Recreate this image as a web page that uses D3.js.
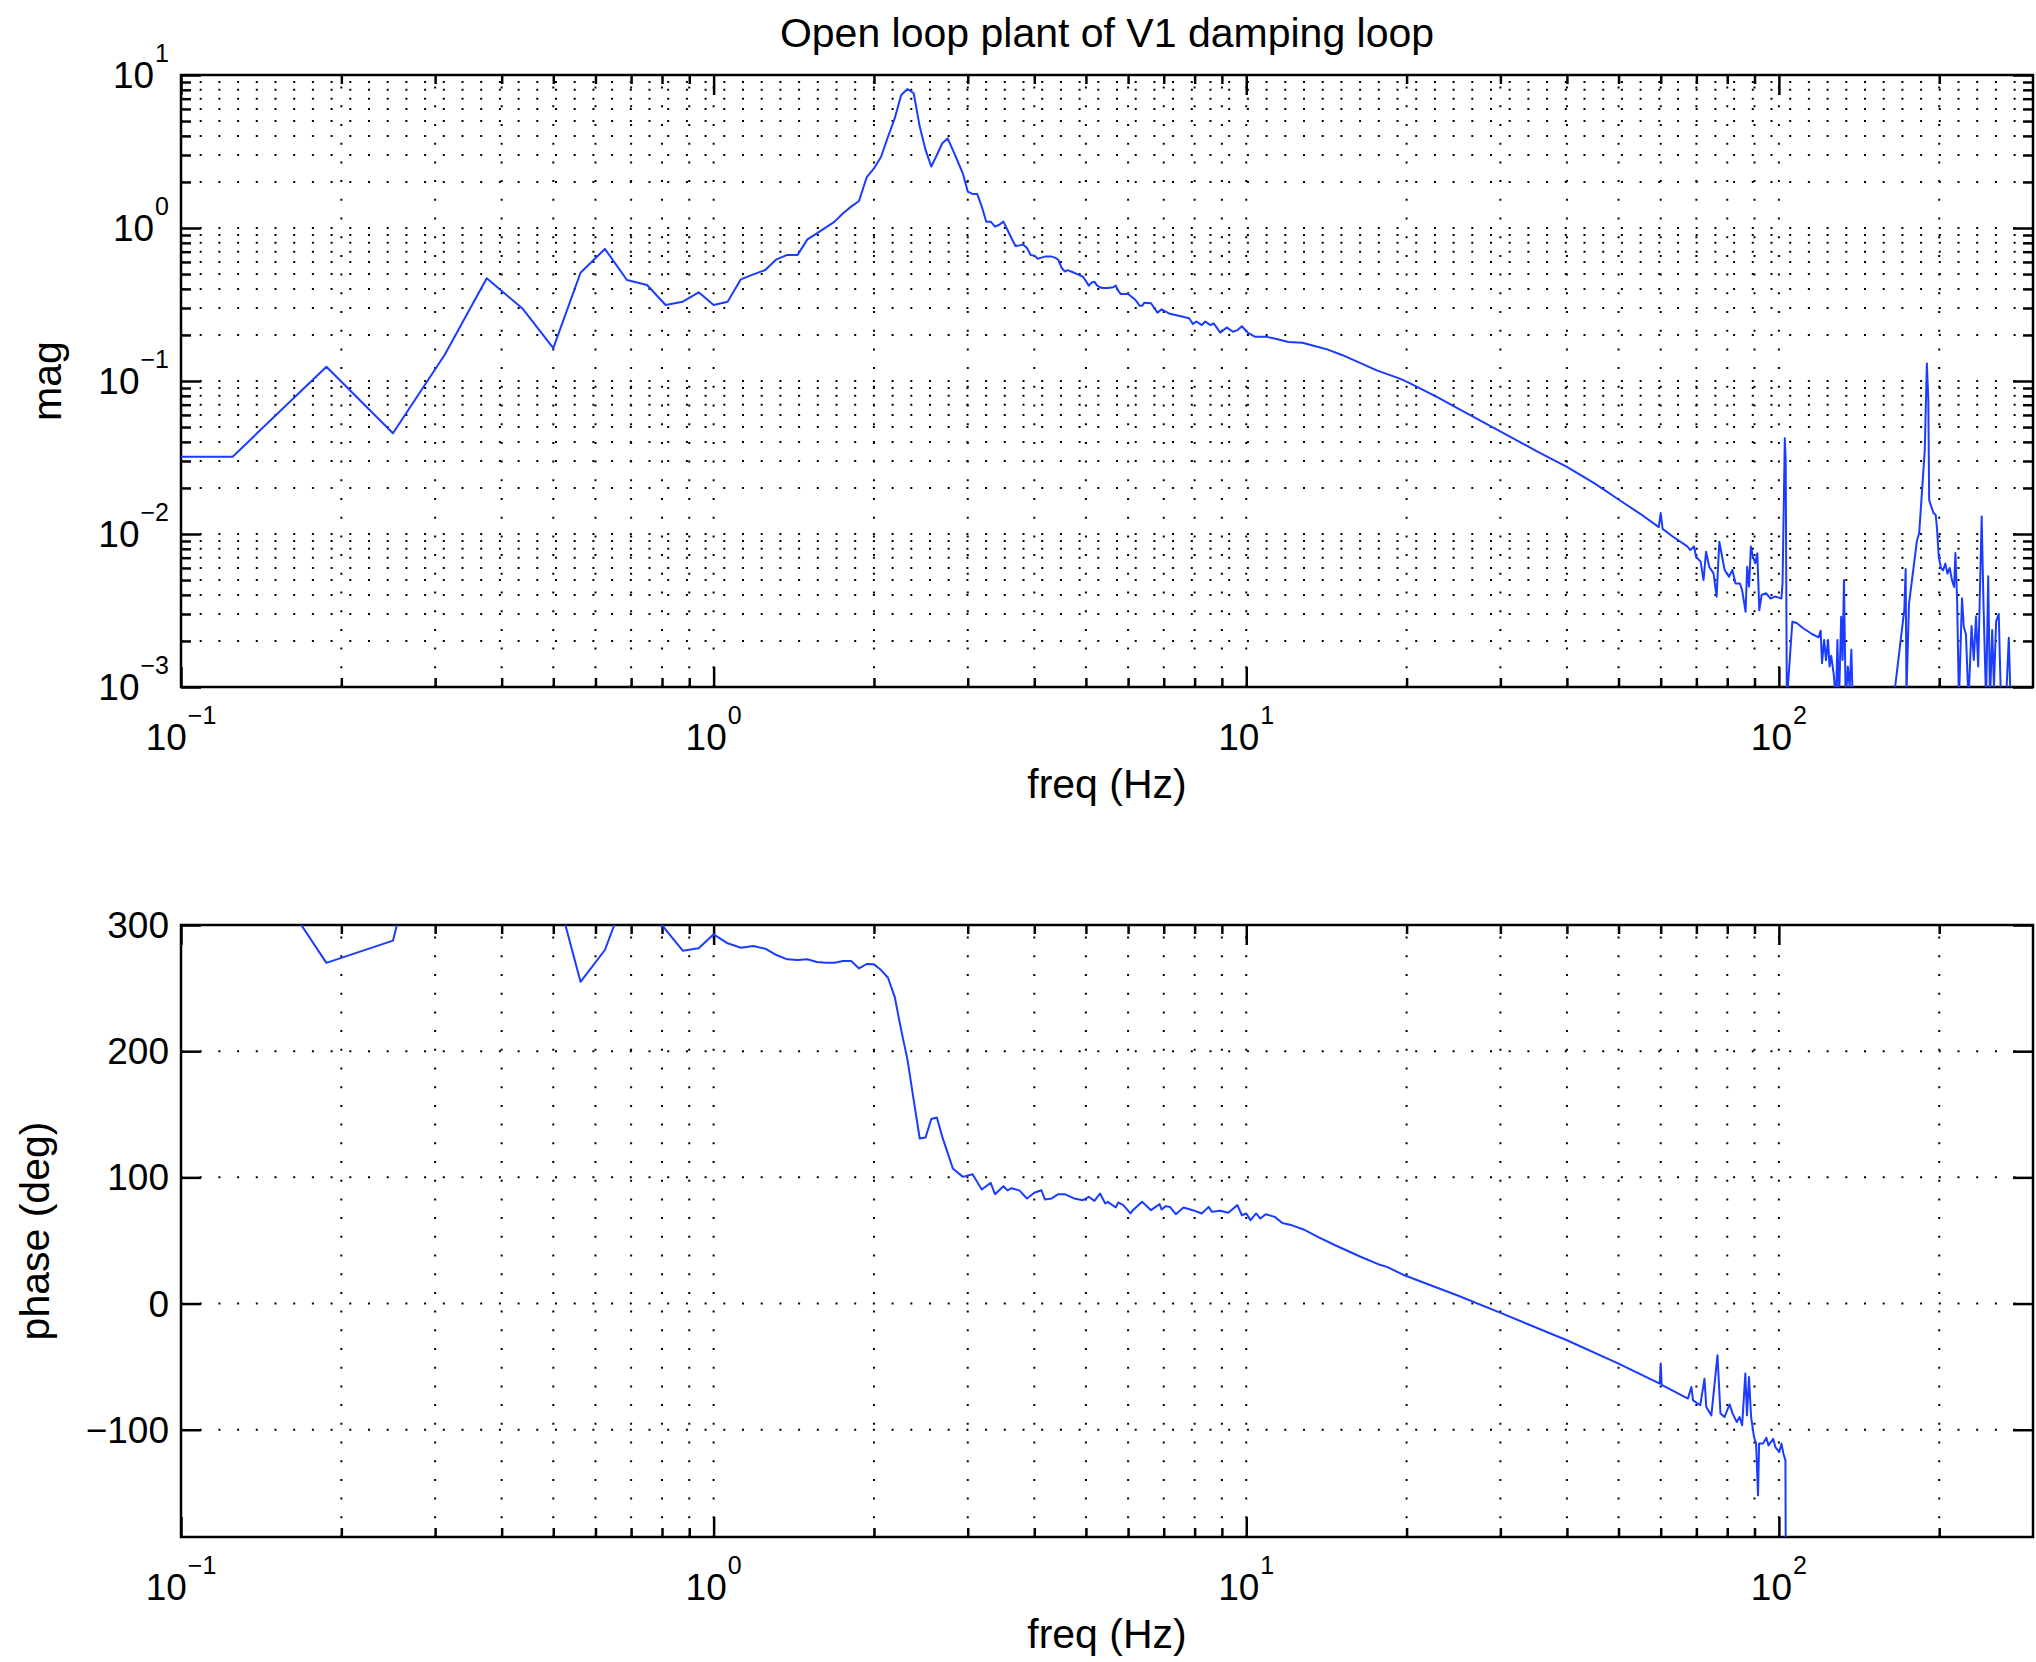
<!DOCTYPE html>
<html><head><meta charset="utf-8">
<script src="https://cdn.jsdelivr.net/npm/d3@7"></script>
<style>
body{margin:0;background:#fff;}
svg text{font-family:"Liberation Sans",Arial,Helvetica,sans-serif;fill:#000;}
</style></head><body>
<svg id="chart" width="2036" height="1662"></svg>
<script>
// ---------------- data ----------------
const titleText = "Open loop plant of V1 damping loop";
const xLabelText = "freq (Hz)";
const magLabelText = "mag";
const phaseLabelText = "phase (deg)";
const xTickExps = [-1, 0, 1, 2];
const magTickExps = [-3, -2, -1, 0, 1];
const phaseTicks = [-100, 0, 100, 200, 300];

const magFreq = [
  0.0625, 0.125, 0.1875, 0.25, 0.3125, 0.375, 0.4375, 0.5, 0.5625, 0.625,
  0.6875, 0.75, 0.8125, 0.875, 0.9375, 1.0, 1.0625, 1.125, 1.1875, 1.25,
  1.3125, 1.375, 1.4375, 1.5, 1.5625, 1.625, 1.6875, 1.75, 1.8125, 1.875,
  1.9375, 2.0, 2.0625, 2.125, 2.1875, 2.25, 2.3125, 2.375, 2.4375, 2.5,
  2.5625, 2.625, 2.6875, 2.75, 2.8125, 2.875, 2.9375, 3.0, 3.0625, 3.125,
  3.1875, 3.25, 3.3125, 3.375, 3.4375, 3.5, 3.5625, 3.625, 3.6875, 3.75,
  3.8125, 3.875, 3.9375, 4.0, 4.0625, 4.125, 4.1875, 4.25, 4.3125, 4.375,
  4.4375, 4.5, 4.5625, 4.625, 4.6875, 4.75, 4.8125, 4.875, 4.9375, 5.0,
  5.0625, 5.125, 5.1875, 5.25, 5.3125, 5.375, 5.5, 5.625, 5.6875, 5.75,
  5.8125, 6.0, 6.125, 6.1875, 6.3125, 6.375, 6.4375, 6.625, 6.8125, 6.9375,
  7.1875, 7.5, 7.8125, 7.9375, 8.0625, 8.25, 8.375, 8.5625, 8.6875, 8.9375,
  9.1875, 9.4375, 9.625, 9.8125, 10.0625, 10.375, 10.875, 11.5, 12.0, 12.75,
  13.375, 14.1875, 15.125, 16.3125, 17.625, 19.375, 20.0, 22.75, 25.0, 29.625,
  35.0, 40.0, 45.0, 50.0, 55.0, 59.5, 60.0, 60.5, 63.0, 67.3,
  68.2, 69.3, 69.9, 71.3, 72.2, 73.0, 74.0, 75.4, 76.4, 77.3,
  79.1, 80.6, 81.8, 82.9, 84.5, 85.3, 86.6, 87.2, 87.9, 88.6,
  89.4, 90.3, 91.1, 91.9, 92.8, 94.6, 96.4, 98.3, 101.1, 101.6,
  102.6, 103.0, 103.5, 106.0, 108.0, 111.1, 115.4, 118.7, 119.8, 120.5,
  121.6, 122.6, 123.7, 124.5, 125.4, 126.8, 128.0, 128.8, 129.7, 130.9,
  131.7, 132.5, 133.5, 134.7, 135.8, 136.8, 137.6, 150.0, 160.0, 164.7,
  172.0, 173.0, 173.6, 175.5, 181.6, 183.4, 187.9, 189.6, 190.8, 191.5,
  193.3, 195.1, 197.0, 198.1, 199.6, 201.5, 203.4, 205.4, 207.3, 209.3,
  211.3, 213.3, 214.5, 216.1, 217.8, 220.7, 222.4, 224.5, 227.0, 230.0,
  232.3, 234.5, 236.7, 240.3, 242.1, 244.9, 247.2, 249.1, 251.5, 253.4,
  255.8, 258.7, 261.2, 267.7, 270.2, 272.3, 285.0, 300.0
];
const magVal = [
  0.032, 0.032, 0.124, 0.0455, 0.148, 0.469, 0.298, 0.164, 0.51, 0.73,
  0.457, 0.424, 0.314, 0.33, 0.38, 0.314, 0.33, 0.462, 0.498, 0.531,
  0.624, 0.667, 0.667, 0.843, 0.923, 1.01, 1.10, 1.25, 1.38, 1.50,
  2.14, 2.45, 2.92, 3.95, 5.2, 7.4, 8.1, 7.6, 4.6, 3.24,
  2.52, 3.0, 3.58, 3.85, 3.24, 2.71, 2.27, 1.73, 1.67, 1.67,
  1.38, 1.10, 1.10, 1.02, 1.05, 1.10, 0.97, 0.857, 0.762, 0.77,
  0.78, 0.74, 0.667, 0.66, 0.63, 0.64, 0.65, 0.65, 0.65, 0.64,
  0.62, 0.55, 0.52, 0.53, 0.52, 0.51, 0.50, 0.49, 0.48, 0.45,
  0.42, 0.44, 0.445, 0.42, 0.41, 0.405, 0.405, 0.41, 0.42, 0.39,
  0.37, 0.37, 0.35, 0.34, 0.31, 0.31, 0.325, 0.322, 0.28, 0.294,
  0.275, 0.266, 0.257, 0.236, 0.245, 0.232, 0.245, 0.232, 0.238, 0.207,
  0.224, 0.21, 0.215, 0.228, 0.207, 0.195, 0.195, 0.187, 0.18, 0.178,
  0.17, 0.161, 0.148, 0.132, 0.117, 0.104, 0.099, 0.079, 0.066, 0.048,
  0.035, 0.0275, 0.0215, 0.0168, 0.0135, 0.0111, 0.0137, 0.0108, 0.0097, 0.0083,
  0.00785, 0.0083, 0.0071, 0.0066, 0.005, 0.00766, 0.0061, 0.00553, 0.00389, 0.0089,
  0.00582, 0.00526, 0.00582, 0.00475, 0.00475, 0.0043, 0.0031, 0.0061, 0.00453, 0.0083,
  0.0071, 0.00643, 0.00747, 0.00318, 0.00399, 0.0041, 0.00379, 0.0039, 0.00379, 0.00475,
  0.0422, 0.03, 0.0008, 0.00267, 0.00262, 0.00242, 0.00222, 0.00211, 0.00233, 0.00143,
  0.00203, 0.0015, 0.00203, 0.00136, 0.0016, 0.0012, 0.0008, 0.00203, 0.0008, 0.00288,
  0.0015, 0.005, 0.0008, 0.00136, 0.001, 0.00175, 0.0008, 0.0004, 0.0005, 0.0009,
  0.0032, 0.0059, 0.0009, 0.0035, 0.009, 0.0101, 0.0354, 0.13, 0.075, 0.0167,
  0.0151, 0.0137, 0.0133, 0.0109, 0.0071, 0.006, 0.0058, 0.0064, 0.0055, 0.006,
  0.005, 0.0045, 0.0075, 0.0037, 0.0008, 0.0038, 0.00248, 0.0022, 0.0008, 0.0025,
  0.0015, 0.0029, 0.00136, 0.013, 0.0037, 0.0008, 0.0053, 0.0008, 0.00236, 0.001,
  0.0027, 0.003, 0.0008, 0.001, 0.0021, 0.0008, 0.0005, 0.0004
];

const phaseFreq = [
  0.0625, 0.125, 0.1875, 0.25, 0.3125, 0.375, 0.4375, 0.5, 0.5625, 0.625,
  0.6875, 0.75, 0.8125, 0.875, 0.9375, 1.0, 1.0625, 1.125, 1.1875, 1.25,
  1.3125, 1.375, 1.4375, 1.5, 1.5625, 1.625, 1.6875, 1.75, 1.8125, 1.875,
  1.9375, 2.0, 2.0625, 2.125, 2.1875, 2.25, 2.3125, 2.375, 2.4375, 2.5,
  2.5625, 2.625, 2.6875, 2.8125, 2.9375, 3.0625, 3.1875, 3.3125, 3.375, 3.5,
  3.5625, 3.625, 3.75, 3.875, 4.0, 4.125, 4.1875, 4.3125, 4.4375, 4.5625,
  4.75, 4.9375, 5.0625, 5.1875, 5.3125, 5.4375, 5.5, 5.6875, 5.75, 5.875,
  6.0625, 6.125, 6.375, 6.625, 6.875, 6.9375, 7.0625, 7.1875, 7.375, 7.625,
  7.9375, 8.25, 8.5, 8.625, 8.9375, 9.25, 9.625, 9.8125, 10.0, 10.1875,
  10.4375, 10.625, 10.875, 11.3125, 11.6875, 12.1875, 12.8125, 13.625, 14.6875, 16.3125,
  17.6875, 18.375, 19.8125, 22.1875, 24.875, 29.875, 40.0, 50.0, 59.75, 60.0,
  60.25, 67.5, 68.5, 69.0, 71.1875, 72.5, 73.0625, 74.6875, 76.6875, 77.6875,
  79.0625, 80.8125, 81.875, 83.375, 84.375, 85.3125, 86.5, 87.125, 87.875, 88.6875,
  89.8125, 90.625, 91.375, 91.8125, 93.375, 94.75, 95.625, 97.5625, 98.5, 100.1875,
  101.125, 102.0, 102.875, 103.125
];
const phaseVal = [
  390, 382, 270, 287.6, 450, 420, 380, 336, 255, 280.2,
  327, 315, 296.3, 279.6, 281.5, 292.6, 285.5, 282, 283.3, 281.2,
  276.2, 272.8, 272.2, 272.8, 270.7, 270.1, 270.1, 271.4, 271.4, 265.6,
  269.1, 268.8, 264.3, 258.2, 243.1, 216.7, 192.9, 161.2, 130.8, 131.6,
  146.2, 147.5, 132.1, 107.1, 100.4, 102.5, 90.4, 95.6, 86.7, 93,
  89.7, 91.4, 89.7, 83.3, 87.8, 89.8, 82.5, 83.3, 86.7, 86.7,
  83.3, 81.9, 84.6, 81.4, 87.2, 79.3, 80.6, 76.1, 80.1, 78,
  71.4, 74, 80.6, 74, 78.8, 74.5, 77.2, 76.6, 70.8, 76.1,
  74, 71.4, 76.6, 72.7, 73.5, 71.9, 78, 70, 71.4, 66.1,
  71.4, 67.4, 70.8, 68.7, 63.9, 62, 58.7, 52.8, 46.2, 37.5,
  31.2, 29.1, 22.4, 14.5, 6.6, -7, -29.1, -47.6, -63.4, -47.6,
  -64.5, -75.3, -66.1, -76.7, -80.6, -59.5, -82, -88.6, -41, -87.2,
  -89.9, -79.9, -87.2, -93.9, -89.9, -96.5, -55.5, -88.6, -58.2, -89.9,
  -105.8, -111, -152, -111, -111, -106.3, -112.4, -107.1, -113.7, -117.7,
  -111, -119, -124.3, -260
];

// ---------------- layout ----------------
const L = 181, R = 2033;
const magTop = 75, magBottom = 687;
const phTop = 925, phBottom = 1537;
const lineColor = "#1a3cff";
const gridDash = "2 16.7";
const tickFont = 37, supFont = 25, labelFont = 41;

const svg = d3.select("#chart");
const x = d3.scaleLog().domain([0.1, 300]).range([L, R]);
const yMag = d3.scaleLog().domain([1e-3, 10]).range([magBottom, magTop]);
const yPh = d3.scaleLinear().domain([-185, 300]).range([phBottom, phTop]);

function logMinors(lo, hi) {
  const out = [];
  for (let e = Math.floor(Math.log10(lo)); e <= Math.ceil(Math.log10(hi)); e++) {
    for (let m = 2; m <= 9; m++) {
      const v = m * Math.pow(10, e);
      if (v > lo * 1.0001 && v < hi * 0.9999) out.push(v);
    }
  }
  return out;
}
function logMajors(lo, hi) {
  const out = [];
  for (let e = Math.ceil(Math.log10(lo) - 1e-9); Math.pow(10, e) <= hi * 1.0001; e++) out.push(Math.pow(10, e));
  return out;
}
const xMajor = logMajors(0.1, 300);
const xMinor = logMinors(0.1, 300);
const magMajor = logMajors(1e-3, 10);
const magMinor = logMinors(1e-3, 10);

function expText(e) { return e < 0 ? "\u2212" + Math.abs(e) : String(e); }

function drawPanel(yScale, top, bottom, yMajorVals, yMinorVals, clipId) {
  const g = svg.append("g");
  // grid
  const grid = g.append("g").attr("stroke", "#000").attr("stroke-width", 2)
    .attr("stroke-dasharray", gridDash).attr("fill", "none");
  xMajor.concat(xMinor).forEach(v => {
    const px = x(v);
    if (px <= L + 1 || px >= R - 1) return;
    grid.append("line").attr("x1", px).attr("x2", px).attr("y1", bottom).attr("y2", top);
  });
  yMajorVals.concat(yMinorVals).forEach(v => {
    const py = yScale(v);
    if (py <= top + 1 || py >= bottom - 1) return;
    grid.append("line").attr("x1", L).attr("x2", R).attr("y1", py).attr("y2", py);
  });

  // ticks via d3 axes (inward)
  const axes = [
    [d3.axisBottom(x).tickValues(xMajor).tickSize(-20), `translate(0,${bottom})`],
    [d3.axisBottom(x).tickValues(xMinor).tickSize(-9), `translate(0,${bottom})`],
    [d3.axisTop(x).tickValues(xMajor).tickSize(-20), `translate(0,${top})`],
    [d3.axisTop(x).tickValues(xMinor).tickSize(-9), `translate(0,${top})`],
    [d3.axisLeft(yScale).tickValues(yMajorVals).tickSize(-20), `translate(${L},0)`],
    [d3.axisRight(yScale).tickValues(yMajorVals).tickSize(-20), `translate(${R},0)`]
  ];
  if (yMinorVals.length) {
    axes.push([d3.axisLeft(yScale).tickValues(yMinorVals).tickSize(-10), `translate(${L},0)`]);
    axes.push([d3.axisRight(yScale).tickValues(yMinorVals).tickSize(-10), `translate(${R},0)`]);
  }
  axes.forEach(([ax, tr]) => {
    const a = g.append("g").attr("transform", tr).call(ax.tickFormat(""));
    a.select(".domain").remove();
    a.selectAll("line").attr("stroke", "#000").attr("stroke-width", 2.5);
    a.selectAll("text").remove();
  });

  // data clip
  svg.append("clipPath").attr("id", clipId).append("rect")
    .attr("x", L).attr("y", top).attr("width", R - L).attr("height", bottom - top);

  // box
  g.append("rect").attr("x", L).attr("y", top).attr("width", R - L).attr("height", bottom - top)
    .attr("fill", "none").attr("stroke", "#000").attr("stroke-width", 2.5);
  return g;
}

function drawXTickLabels(baseline) {
  xTickExps.forEach(e => {
    const t = svg.append("text").attr("x", x(Math.pow(10, e))).attr("y", baseline)
      .attr("text-anchor", "middle").attr("font-size", tickFont);
    t.append("tspan").text("10");
    t.append("tspan").attr("font-size", supFont).attr("dy", -26).attr("dx", 1).text(expText(e));
  });
}

// ---------- magnitude panel ----------
drawPanel(yMag, magTop, magBottom, magMajor, magMinor, "clipMag");
const magData = magFreq.map((f, i) => [f, magVal[i]]);
svg.append("path").datum(magData)
  .attr("clip-path", "url(#clipMag)")
  .attr("fill", "none").attr("stroke", lineColor).attr("stroke-width", 2)
  .attr("stroke-linejoin", "round")
  .attr("d", d3.line().x(d => x(d[0])).y(d => yMag(d[1])));

magTickExps.forEach(e => {
  const t = svg.append("text").attr("x", 169).attr("y", yMag(Math.pow(10, e)) + 13)
    .attr("text-anchor", "end").attr("font-size", tickFont);
  t.append("tspan").text("10");
  t.append("tspan").attr("font-size", supFont).attr("dy", -26).attr("dx", 1).text(expText(e));
});
drawXTickLabels(750);

// ---------- phase panel ----------
drawPanel(yPh, phTop, phBottom, phaseTicks, [], "clipPh");
const phData = phaseFreq.map((f, i) => [f, phaseVal[i]]);
svg.append("path").datum(phData)
  .attr("clip-path", "url(#clipPh)")
  .attr("fill", "none").attr("stroke", lineColor).attr("stroke-width", 2)
  .attr("stroke-linejoin", "round")
  .attr("d", d3.line().x(d => x(d[0])).y(d => yPh(d[1])));

phaseTicks.forEach(v => {
  svg.append("text").attr("x", 169).attr("y", yPh(v) + 13)
    .attr("text-anchor", "end").attr("font-size", tickFont)
    .text(v < 0 ? "\u2212" + Math.abs(v) : String(v));
});
drawXTickLabels(1600);

// ---------- titles & labels ----------
svg.append("text").attr("x", (L + R) / 2).attr("y", 47).attr("text-anchor", "middle")
  .attr("font-size", labelFont).text(titleText);
svg.append("text").attr("x", (L + R) / 2).attr("y", 798).attr("text-anchor", "middle")
  .attr("font-size", labelFont).text(xLabelText);
svg.append("text").attr("x", (L + R) / 2).attr("y", 1648).attr("text-anchor", "middle")
  .attr("font-size", labelFont).text(xLabelText);
svg.append("text").attr("transform", `translate(61,${(magTop + magBottom) / 2}) rotate(-90)`)
  .attr("text-anchor", "middle").attr("font-size", labelFont).text(magLabelText);
svg.append("text").attr("transform", `translate(49,${(phTop + phBottom) / 2}) rotate(-90)`)
  .attr("text-anchor", "middle").attr("font-size", labelFont).text(phaseLabelText);
</script>
</body></html>
